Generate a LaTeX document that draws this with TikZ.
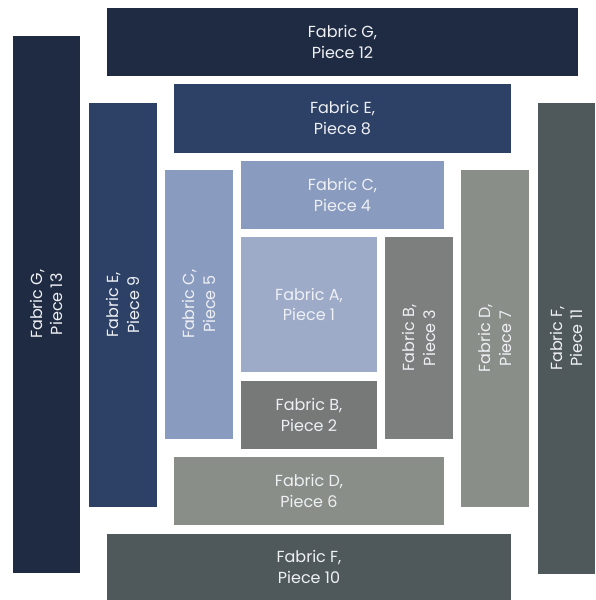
\documentclass[tikz,border=0pt]{standalone}
\usepackage{fontspec}
\setmainfont{Poppins}
\definecolor{fabG}{HTML}{1F2B42}
\definecolor{fabE}{HTML}{2D4066}
\definecolor{fabC}{HTML}{8A9BC0}
\definecolor{fabA}{HTML}{9DABC9}
\definecolor{fabB}{HTML}{7C7F7E}
\definecolor{fabD}{HTML}{8A8E89}
\definecolor{fabF}{HTML}{4F595B}
\definecolor{labelc}{HTML}{EEF0F4}
\tikzset{
  piece/.style={draw=none, inner sep=0pt, align=center, text=labelc,
    font=\fontsize{16}{20.5}\selectfont},
  vpiece/.style={piece, rotate=90}
}
\begin{document}
\begin{tikzpicture}[x=1pt,y=-1pt]
\path[fill=white] (0,0) rectangle (595,600);
\useasboundingbox (0,0) rectangle (595,600);
% horizontal pieces
\node[piece, fill=fabG, minimum width=471pt, minimum height=68pt] (p12) at (342.5,42) {Fabric G,\\Piece 12};
\node[piece, fill=fabE, minimum width=337pt, minimum height=68.5pt] (p8) at (342.5,118.25) {Fabric E,\\Piece 8};
\node[piece, fill=fabC, minimum width=203pt, minimum height=67.7pt] (p4) at (342.5,194.85) {Fabric C,\\Piece 4};
\node[piece, fill=fabA, minimum width=136pt, minimum height=134.7pt] (p1) at (309,304.35) {Fabric A,\\Piece 1};
\node[piece, fill=fabB!95!black, minimum width=136pt, minimum height=67.7pt] (p2) at (309,414.85) {Fabric B,\\Piece 2};
\node[piece, fill=fabD, minimum width=270pt, minimum height=67.7pt] (p6) at (309,490.85) {Fabric D,\\Piece 6};
\node[piece, fill=fabF, minimum width=404pt, minimum height=66pt] (p10) at (309,567) {Fabric F,\\Piece 10};
% vertical pieces
\node[vpiece, fill=fabG, minimum width=536.5pt, minimum height=67.5pt] (p13) at (46.25,304.25) {Fabric G,\\Piece 13};
\node[vpiece, fill=fabE, minimum width=403.5pt, minimum height=68pt] (p9) at (123,304.75) {Fabric E,\\Piece 9};
\node[vpiece, fill=fabC, minimum width=268.7pt, minimum height=68pt] (p5) at (199,304.35) {Fabric C,\\Piece 5};
\node[vpiece, fill=fabB, minimum width=201.7pt, minimum height=67.7pt] (p3) at (419.15,337.85) {Fabric B,\\Piece 3};
\node[vpiece, fill=fabD, minimum width=336.7pt, minimum height=68pt] (p7) at (495,338.35) {Fabric D,\\Piece 7};
\node[vpiece, fill=fabF, minimum width=470.7pt, minimum height=57pt] (p11) at (566.5,338.35) {Fabric F,\\Piece 11};
\end{tikzpicture}
\end{document}
